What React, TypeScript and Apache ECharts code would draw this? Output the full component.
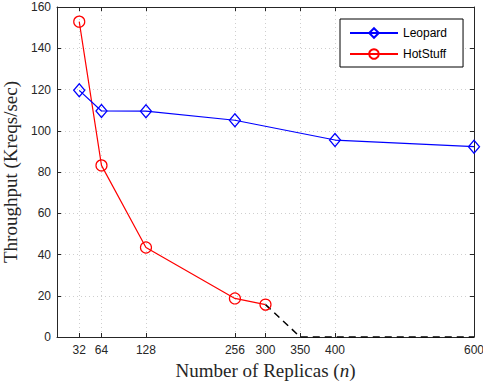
import React, { useEffect, useRef } from "react";
import * as echarts from "echarts";

const xTicks = [32, 64, 128, 256, 300, 350, 400, 600];
const leopardX = [32, 64, 128, 256, 400, 600];
const leopardY = [119.6, 109.6, 109.5, 105.1, 95.5, 92.3];
const hotstuffX = [32, 64, 128, 256, 300];
const hotstuffY = [152.9, 83.2, 43.4, 18.7, 15.7];
const extX = [300, 350, 600];
const extY = [15.7, 0, 0];

const axisColor = "#262626";
const gridColor = "#cfcfcf";
const titleFont = "Liberation Serif";
const titleSize = 19;

export default function App() {
  const ref = useRef<HTMLDivElement>(null);
  useEffect(() => {
    if (!ref.current) return;
    const chart = echarts.init(ref.current, undefined, { renderer: "svg" });
    const pair = (xs: number[], ys: number[]) => xs.map((x, i) => [x, ys[i]]);
    chart.setOption({
      animation: false,
      backgroundColor: "#ffffff",
      grid: { left: 57, right: 9, top: 7, bottom: 44, containLabel: false, outerBoundsMode: "none" },
      legend: {
        data: ["Leopard", "HotStuff"],
        left: 340,
        top: 19,
        orient: "vertical",
        backgroundColor: "#ffffff",
        borderColor: "#000000",
        borderWidth: 1,
        borderRadius: 0,
        padding: [8, 16, 7, 9],
        itemWidth: 48,
        itemHeight: 12,
        itemGap: 9,
        textStyle: { fontFamily: "Liberation Sans", fontSize: 12, color: "#000" },
      },
      xAxis: [
        {
          type: "value",
          min: 0,
          max: 600,
          name: "Number of Replicas ({i|n})",
          nameLocation: "middle",
          nameGap: 18,
          nameTextStyle: {
            fontFamily: titleFont,
            fontSize: titleSize,
            color: axisColor,
            verticalAlign: "top",
            rich: { i: { fontStyle: "italic", fontFamily: titleFont, fontSize: titleSize, color: axisColor } },
          },
          axisLine: { show: true, onZero: false, lineStyle: { color: axisColor, width: 1 } },
          axisTick: { show: true, inside: true, length: 4, customValues: xTicks, lineStyle: { color: axisColor } },
          axisLabel: { customValues: xTicks, margin: 7, fontFamily: "Liberation Sans", fontSize: 12, color: axisColor },
          splitLine: { show: true, lineStyle: { color: gridColor, type: [1, 3], width: 1 } },
        },
        {
          type: "value",
          position: "top",
          min: 0,
          max: 600,
          axisLine: { show: true, onZero: false, lineStyle: { color: axisColor, width: 1 } },
          axisTick: { show: true, inside: true, length: 4, customValues: xTicks, lineStyle: { color: axisColor } },
          axisLabel: { show: false },
          splitLine: { show: false },
        },
      ],
      yAxis: [
        {
          type: "value",
          min: 0,
          max: 160,
          interval: 20,
          name: "Throughput (Kreqs/sec)",
          nameLocation: "middle",
          nameGap: 35,
          nameTextStyle: { fontFamily: titleFont, fontSize: titleSize, color: axisColor },
          axisLine: { show: true, onZero: false, lineStyle: { color: axisColor, width: 1 } },
          axisTick: { show: true, inside: true, length: 4, lineStyle: { color: axisColor } },
          axisLabel: { margin: 6, fontFamily: "Liberation Sans", fontSize: 12, color: axisColor },
          splitLine: { show: true, lineStyle: { color: gridColor, type: [1, 3], width: 1 } },
        },
        {
          type: "value",
          position: "right",
          min: 0,
          max: 160,
          interval: 20,
          axisLine: { show: true, onZero: false, lineStyle: { color: axisColor, width: 1 } },
          axisTick: { show: true, inside: true, length: 4, lineStyle: { color: axisColor } },
          axisLabel: { show: false },
          splitLine: { show: false },
        },
      ],
      series: [
        {
          name: "Leopard",
          type: "line",
          data: pair(leopardX, leopardY),
          symbol: "diamond",
          symbolSize: [11, 13],
          showAllSymbol: true,
          lineStyle: { color: "#0000ff", width: 1.2 },
          itemStyle: { color: "rgba(0,0,0,0)", borderColor: "#0000ff", borderWidth: 1.3 },
          z: 4,
        },
        {
          name: "HotStuff",
          type: "line",
          data: pair(hotstuffX, hotstuffY),
          symbol: "circle",
          symbolSize: 11,
          showAllSymbol: true,
          lineStyle: { color: "#ff0000", width: 1.2 },
          itemStyle: { color: "rgba(0,0,0,0)", borderColor: "#ff0000", borderWidth: 1.2 },
          z: 3,
        },
        {
          name: "ext",
          type: "line",
          data: pair(extX, extY),
          symbol: "none",
          lineStyle: { color: "#000000", width: 1.5, type: [7, 5] },
          z: 2,
        },
      ],
    });
    return () => chart.dispose();
  }, []);
  return <div ref={ref} style={{ width: 483, height: 381, position: "absolute", left: 0, top: 0 }} />;
}
